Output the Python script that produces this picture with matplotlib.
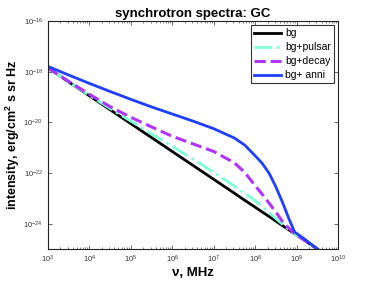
import matplotlib
matplotlib.use("Agg")
import matplotlib.pyplot as plt
import numpy as np
from matplotlib.ticker import FixedLocator, NullLocator, NullFormatter, LogFormatterMathtext

plt.rcParams['font.family'] = ['Liberation Sans', 'DejaVu Sans']
plt.rcParams['mathtext.fontset'] = 'custom'
plt.rcParams['mathtext.rm'] = 'Liberation Sans'
plt.rcParams['mathtext.bf'] = 'Liberation Sans:bold'

# frequency grid (log10 MHz) and log10 intensities
log_nu = [3.0, 3.5, 4.0, 4.5, 5.0, 5.5, 6.0, 6.5, 7.0, 7.5, 7.75, 8.0,
          8.17, 8.34, 8.5, 8.67, 8.8, 8.95, 9.2, 9.5]
log_bg = [-17.85, -18.40, -18.95, -19.50, -20.05, -20.60, -21.15, -21.70, -22.25, -22.80,
          -23.08, -23.35, -23.54, -23.72, -23.90, -24.09, -24.23, -24.40, -24.67, -25.00]
log_pulsar = [-17.85, -18.40, -18.93, -19.45, -19.95, -20.45, -20.95, -21.45, -21.97, -22.52,
              -22.81, -23.09, -23.34, -23.57, -23.80, -24.04, -24.21, -24.40, -24.67, -25.00]
log_decay = [-17.85, -18.38, -18.89, -19.38, -19.80, -20.18, -20.55, -20.85, -21.15, -21.60,
             -21.98, -22.50, -22.84, -23.20, -23.55, -23.94, -24.16, -24.38, -24.67, -25.00]
log_anni = [-17.79, -18.13, -18.46, -18.78, -19.09, -19.39, -19.67, -19.95, -20.25, -20.62,
            -20.90, -21.32, -21.62, -22.02, -22.55, -23.20, -23.75, -24.33, -24.62, -25.00]

names = ['bg', 'bg+pulsar', 'bg+decay', 'bg+ anni']
x_ticks = [1e3, 1e4, 1e5, 1e6, 1e7, 1e8, 1e9, 1e10]
y_ticks = [1e-24, 1e-22, 1e-20, 1e-18, 1e-16]

nu = 10**np.array(log_nu)

fig = plt.figure(figsize=(3.74, 2.81), dpi=100)
ax = fig.add_axes([0.128, 0.114, 0.776, 0.811])

ax.loglog(nu, 10**np.array(log_bg), color='black', lw=2, label=names[0])
ax.loglog(nu, 10**np.array(log_pulsar), color='#7fffd4', lw=2, ls='-.', label=names[1])
ax.loglog(nu, 10**np.array(log_decay), color='#b133ff', lw=2.2, ls='--', label=names[2])
ax.loglog(nu, 10**np.array(log_anni), color='#1f3fff', lw=2, label=names[3])

ax.set_xlim(1e3, 1e10)
ax.set_ylim(1e-25, 1e-16)
minor_x = [m * 10**e for e in range(3, 10) for m in range(2, 10)]
ax.xaxis.set_major_locator(FixedLocator(x_ticks))
ax.xaxis.set_major_formatter(LogFormatterMathtext())
ax.xaxis.set_minor_locator(FixedLocator(minor_x))
ax.xaxis.set_minor_formatter(NullFormatter())
ax.yaxis.set_major_locator(FixedLocator(y_ticks))
ax.yaxis.set_major_formatter(LogFormatterMathtext())
ax.yaxis.set_minor_locator(NullLocator())
ax.tick_params(which='both', direction='in', top=True, right=True,
               labelsize=5.5, labelcolor='#333333', color='#555555')
ax.tick_params(which='major', length=3, width=0.6)
ax.tick_params(which='minor', length=1.5, width=0.5)
for s in ax.spines.values():
    s.set_color('#222222')
    s.set_linewidth(0.8)

ax.set_title('synchrotron spectra: GC', fontsize=9.5, fontweight='bold', pad=3)
ax.set_xlabel('ν, MHz', fontsize=9.5, fontweight='bold', labelpad=1)
ax.set_ylabel(r'intensity, erg/cm$^\mathbf{2}$ s sr Hz', fontsize=9, fontweight='bold', labelpad=1)

leg = ax.legend(loc='upper right', fontsize=7.5, frameon=True, fancybox=False,
                edgecolor='black', handlelength=2.6, borderpad=0.3, labelspacing=0.38,
                borderaxespad=0.4, handletextpad=0.35)
leg.get_frame().set_linewidth(0.8)

fig.savefig('out.png', dpi=100)
